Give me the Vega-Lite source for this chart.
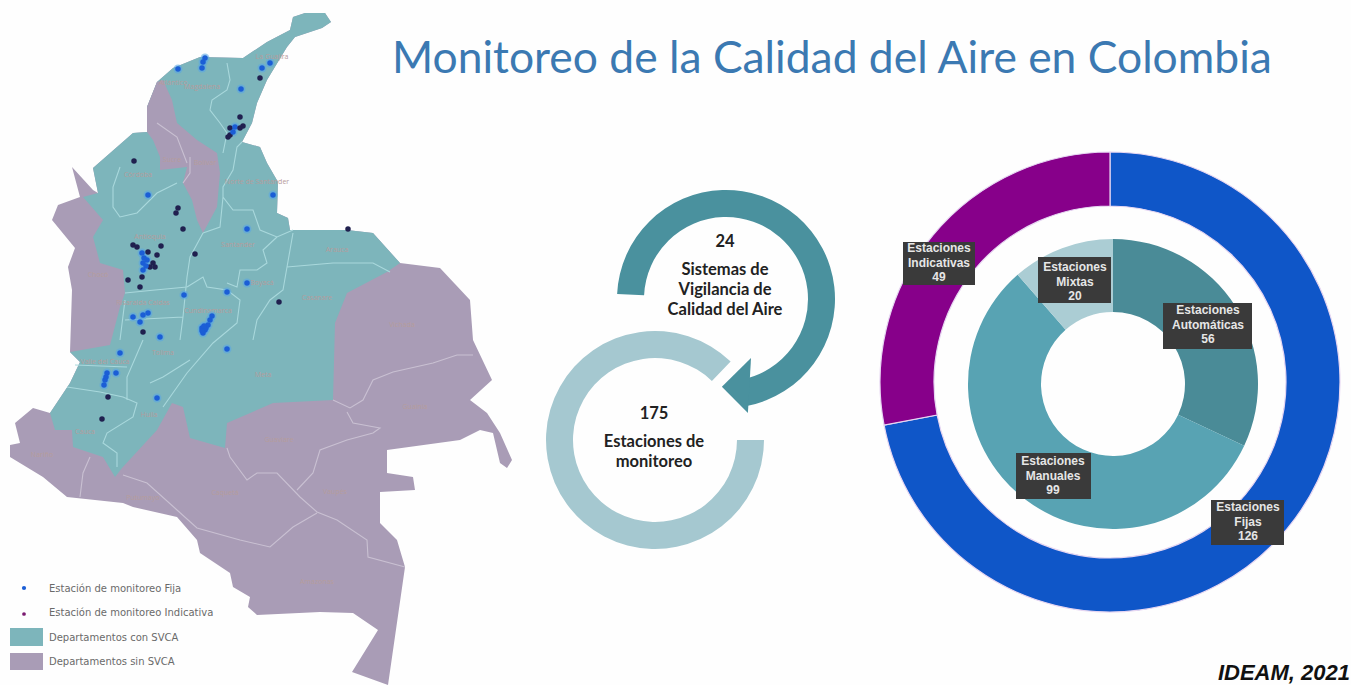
{"$schema":"https://vega.github.io/schema/vega-lite/v6.json","width":1351,"height":685,"autosize":{"type":"fit","contains":"padding"},"padding":0,"background":"#fefefe","view":{"stroke":null},"projection":{"type":"identity","scale":40,"translate":[3220,530],"reflectY":true},
"datasets":{
"departamentos":[
{"type":"Feature","properties":{"grupo":"Departamentos sin SVCA"},"geometry":{"type":"Polygon","coordinates":[[[-73.175,12.825],[-72.875,12.925],[-72.375,12.925],[-72.225,12.7],[-72.45,12.55],[-73.125,12.325],[-73.325,12.075],[-73.825,11.25],[-74.075,10.675],[-74.2,10.175],[-74.45,9.7],[-74,9.575],[-73.825,9.175],[-73.55,8.7],[-73.575,7.925],[-73.3,7.8],[-73.25,7.5],[-71.825,7.5],[-71.175,7.425],[-70.5,6.675],[-69.5,6.55],[-68.75,5.75],[-68.675,4.75],[-68.2,3.75],[-68.75,3.25],[-68.325,2.925],[-68,2.425],[-67.7,1.75],[-67.825,1.55],[-68,1.675],[-68.175,2.425],[-68.5,2.5],[-69,2.25],[-70.825,2],[-70.825,1.425],[-70.175,1.325],[-70.125,1],[-71,0.95],[-71,0.175],[-70.575,-0.25],[-70.375,-0.925],[-70.8,-3.875],[-71.7,-3.55],[-71.05,-2.5],[-71.675,-2.075],[-72.5,-2.05],[-74.075,-2.125],[-74.3,-1.925],[-74.25,-1.675],[-74.675,-1.425],[-74.75,-1.075],[-75.5,-0.575],[-75.575,-0.25],[-76.075,0.325],[-77.175,0.575],[-77.425,0.675],[-78.825,0.825],[-79.425,1.325],[-80.25,1.825],[-80.25,2.125],[-80,2.175],[-80.125,2.675],[-79.675,3.05],[-79.25,2.925],[-78.75,3.675],[-78.5,4.2],[-78.75,4.45],[-78.7,6],[-78.8,6.575],[-78.625,7.05],[-79.2,7.75],[-79.05,8.125],[-78.5,8.325],[-78.7,9.075],[-78.175,8.5],[-78.05,8.425],[-78.175,9.05],[-77.175,9.925],[-76.825,9.95],[-76.825,10.575],[-76.575,11.2],[-76.175,11.55],[-75.5,11.825],[-74.425,11.8],[-73.825,12.2],[-73.25,12.5],[-73.175,12.825]]]}},
{"type":"Feature","properties":{"grupo":"Departamentos con SVCA"},"geometry":{"type":"Polygon","coordinates":[[[-76.575,11.2],[-76.175,11.55],[-75.5,11.825],[-74.425,11.8],[-73.825,12.2],[-73.25,12.5],[-73.175,12.825],[-72.875,12.925],[-72.375,12.925],[-72.225,12.7],[-72.45,12.55],[-73.125,12.325],[-73.325,12.075],[-73.825,11.25],[-74.075,10.675],[-74.2,10.175],[-74.45,9.7],[-74,9.575],[-73.825,9.175],[-73.55,8.7],[-73.575,7.925],[-73.3,7.8],[-73.25,7.5],[-71.825,7.5],[-71.175,7.425],[-70.5,6.675],[-70.825,6.45],[-71.825,5.925],[-72.125,5.175],[-72.175,3.25],[-73.675,3.175],[-74.825,2.675],[-74.875,2.05],[-75.75,2.3],[-75.925,3.075],[-76.2,3.175],[-76.575,2.5],[-77.45,1.55],[-77.625,1.325],[-77.925,1.825],[-78.675,2.075],[-78.7,2.5],[-79.125,2.5],[-79.25,2.925],[-78.75,3.675],[-78.5,4.2],[-78.75,4.45],[-77.75,4.625],[-77.5,5.575],[-77.375,5.925],[-77.425,6.5],[-78,6.675],[-78.175,7.325],[-77.925,7.75],[-78.425,8.325],[-78.05,8.425],[-78.175,9.05],[-77.175,9.925],[-76.825,9.95],[-76.825,10.575],[-76.575,11.2]]]}},
{"type":"Feature","properties":{"grupo":"Departamentos sin SVCA"},"geometry":{"type":"Polygon","coordinates":[[[-76.575,11.2],[-76.425,11.25],[-76.2,10.75],[-76.075,10.175],[-75.575,9.75],[-75.075,9.425],[-75,8.925],[-75.075,8.075],[-75.425,7.425],[-75.575,7.75],[-75.7,8.25],[-75.925,8.675],[-75.825,9.075],[-76.5,9],[-76.5,9.325],[-76.675,9.75],[-76.825,9.95],[-76.825,10.575],[-76.575,11.2]]]}}
],
"limites_con":[{"type":"Feature","properties":{"grupo":"con"},"geometry":{"type":"MultiLineString","coordinates":[
[[-74.825,11.675],[-74.75,11.25],[-74.825,11],[-75.2,10.75],[-75.25,10.5],[-75,10.175],[-74.825,9.925],[-74.925,9.425]],
[[-74.45,9.7],[-74.575,9.575],[-74.675,9],[-74.925,8.575],[-74.925,8.325],[-74.675,8],[-74.175,8],[-74,7.5],[-73.575,7.325],[-73.175,7.5]],
[[-77.5,9.075],[-77.675,8.575],[-77.675,8.075],[-77.5,7.825],[-77.075,7.925],[-76.575,8.425],[-76.075,8.675]],
[[-75.425,7.425],[-75.75,6.825],[-75.825,6.325],[-75.925,5.325],[-76,4.75]],
[[-74.925,8.325],[-75,7.575],[-75.425,7.425]],
[[-73.575,7.325],[-73.925,7],[-73.825,6.675],[-74.075,6.5],[-74.5,6.5],[-74.575,6.075],[-74.825,6.175]],
[[-73.175,7.425],[-73.325,6.575],[-73.425,6],[-73.75,5.75],[-74.075,5.25],[-74.175,4.75]],
[[-73.325,6.575],[-72.175,6.675],[-71.175,6.675],[-70.75,6.45]],
[[-75.825,6.075],[-75.425,6.325],[-75.325,6.075],[-74.825,6],[-74.5,5.75],[-74.575,5.175],[-75.175,4.675],[-75.825,3.925],[-76.425,3.075]],
[[-76.925,4.75],[-77.325,3.825],[-77.325,3.25]],
[[-78.825,3.575],[-78,3.45],[-77.425,3.325],[-77.075,3.175],[-77.175,2.825],[-77.825,2.425],[-77.925,2.175],[-77.575,1.925],[-77.575,1.575]],
[[-78.625,4.125],[-77.325,4.075]],
[[-75.75,4.25],[-76.425,3.825],[-76.75,3.675]],
[[-77.5,4.75],[-77.375,5.75]],
[[-77.375,5.925],[-76.625,6],[-75.825,6.075]],
[[-77.375,5.25],[-75.925,5.325]]
]}}],
"limites_sin":[{"type":"Feature","properties":{"grupo":"sin"},"geometry":{"type":"MultiLineString","coordinates":[
[[-72.175,3.25],[-71.75,3.05],[-71.425,3.25],[-71.175,3.75],[-70.675,3.95],[-69.675,4.175],[-69.075,4.375],[-68.675,4.375]],
[[-71.825,2.95],[-71.675,2.675],[-71,2.55],[-71.175,2.425],[-71.825,2.25],[-72.5,2],[-72.675,1.425],[-73.075,1]],
[[-74.825,2.05],[-74.75,1.825],[-74.325,1.25],[-74.075,1.425],[-73.575,1.425],[-73,0.825],[-72.575,0.45],[-72.075,0.25],[-71.325,-0.25],[-71.3,-0.675],[-70.375,-0.925]],
[[-77.425,1.375],[-76.825,1.175],[-76.075,0.5],[-75.575,0.05],[-74.5,-0.25],[-73.75,-0.425],[-73.175,0.075],[-72.575,0.425]],
[[-78.25,1.825],[-78.425,1.425],[-78.5,0.825]],
[[-76.575,10.175],[-76.075,9.825],[-75.825,9.175]],
[[-75.75,9.325],[-75.75,8.925],[-75.925,8.675]]
]}}],
"estaciones":[
{"lon":-76.05,"lat":11.525,"tipo":"Estación Fija"},{"lon":-75.425,"lat":11.7,"tipo":"Estación Fija"},{"lon":-75.45,"lat":11.55,"tipo":"Estación Fija"},{"lon":-75.375,"lat":11.8,"tipo":"Estación Fija"},{"lon":-73.95,"lat":11.55,"tipo":"Estación Fija"},{"lon":-74,"lat":11.3,"tipo":"Estación Indicativa"},{"lon":-73.75,"lat":11.675,"tipo":"Estación Fija"},{"lon":-74.475,"lat":11.025,"tipo":"Estación Fija"},{"lon":-74.5,"lat":10.325,"tipo":"Estación Indicativa"},{"lon":-74.75,"lat":10.05,"tipo":"Estación Indicativa"},{"lon":-74.625,"lat":10.075,"tipo":"Estación Fija"},{"lon":-74.5,"lat":10.05,"tipo":"Estación Indicativa"},{"lon":-74.75,"lat":9.875,"tipo":"Estación Indicativa"},{"lon":-74.675,"lat":9.95,"tipo":"Estación Fija"},{"lon":-74.8,"lat":9.825,"tipo":"Estación Indicativa"},{"lon":-74.425,"lat":10.1,"tipo":"Estación Indicativa"},{"lon":-77.15,"lat":9.225,"tipo":"Estación Indicativa"},{"lon":-76.8,"lat":8.375,"tipo":"Estación Fija"},{"lon":-76.05,"lat":8.05,"tipo":"Estación Indicativa"},{"lon":-76.1,"lat":7.925,"tipo":"Estación Indicativa"},{"lon":-75.925,"lat":7.525,"tipo":"Estación Indicativa"},{"lon":-74.325,"lat":7.525,"tipo":"Estación Fija"},{"lon":-73.675,"lat":8.375,"tipo":"Estación Fija"},{"lon":-71.8,"lat":7.525,"tipo":"Estación Indicativa"},{"lon":-75.625,"lat":6.9,"tipo":"Estación Indicativa"},{"lon":-77.175,"lat":7.125,"tipo":"Estación Indicativa"},{"lon":-77.075,"lat":7.075,"tipo":"Estación Indicativa"},{"lon":-76.475,"lat":7.1,"tipo":"Estación Indicativa"},{"lon":-76.8,"lat":6.95,"tipo":"Estación Indicativa"},{"lon":-76.95,"lat":6.925,"tipo":"Estación Fija"},{"lon":-76.825,"lat":6.75,"tipo":"Estación Fija"},{"lon":-76.925,"lat":6.675,"tipo":"Estación Fija"},{"lon":-76.675,"lat":6.675,"tipo":"Estación Indicativa"},{"lon":-76.75,"lat":6.575,"tipo":"Estación Indicativa"},{"lon":-76.625,"lat":6.575,"tipo":"Estación Indicativa"},{"lon":-76.925,"lat":6.5,"tipo":"Estación Fija"},{"lon":-76.95,"lat":6.325,"tipo":"Estación Indicativa"},{"lon":-76.575,"lat":6.875,"tipo":"Estación Indicativa"},{"lon":-77.3,"lat":6.25,"tipo":"Estación Indicativa"},{"lon":-77,"lat":6.075,"tipo":"Estación Indicativa"},{"lon":-75.9,"lat":5.875,"tipo":"Estación Fija"},{"lon":-74.825,"lat":5.95,"tipo":"Estación Fija"},{"lon":-73.525,"lat":5.7,"tipo":"Estación Indicativa"},{"lon":-74.325,"lat":6.175,"tipo":"Estación Fija"},{"lon":-75.2,"lat":5.35,"tipo":"Estación Fija"},{"lon":-75.45,"lat":5.05,"tipo":"Estación Fija"},{"lon":-75.375,"lat":5,"tipo":"Estación Fija"},{"lon":-75.3,"lat":5.125,"tipo":"Estación Fija"},{"lon":-75.425,"lat":4.925,"tipo":"Estación Fija"},{"lon":-75.25,"lat":5.25,"tipo":"Estación Fija"},{"lon":-75.35,"lat":5.05,"tipo":"Estación Fija"},{"lon":-75.4,"lat":5.1,"tipo":"Estación Fija"},{"lon":-75.45,"lat":4.98,"tipo":"Estación Fija"},{"lon":-76.85,"lat":6.6,"tipo":"Estación Fija"},{"lon":-76.9,"lat":6.8,"tipo":"Estación Fija"},{"lon":-76.8,"lat":5.425,"tipo":"Estación Fija"},{"lon":-76.925,"lat":5.375,"tipo":"Estación Fija"},{"lon":-77,"lat":5.2,"tipo":"Estación Fija"},{"lon":-77.175,"lat":5.325,"tipo":"Estación Fija"},{"lon":-76.925,"lat":4.95,"tipo":"Estación Indicativa"},{"lon":-76.5,"lat":4.825,"tipo":"Estación Fija"},{"lon":-77.5,"lat":4.425,"tipo":"Estación Fija"},{"lon":-74.825,"lat":4.525,"tipo":"Estación Fija"},{"lon":-77.825,"lat":3.925,"tipo":"Estación Fija"},{"lon":-77.875,"lat":3.75,"tipo":"Estación Fija"},{"lon":-77.9,"lat":3.625,"tipo":"Estación Fija"},{"lon":-77.85,"lat":3.825,"tipo":"Estación Fija"},{"lon":-77.6,"lat":3.925,"tipo":"Estación Fija"},{"lon":-77.8,"lat":3.325,"tipo":"Estación Indicativa"},{"lon":-76.575,"lat":3.3,"tipo":"Estación Fija"},{"lon":-77.95,"lat":2.775,"tipo":"Estación Indicativa"}
],
"nombres":[
{"n":"La Guajira","lon":-73.7,"lat":11.825},{"n":"Magdalena","lon":-75.45,"lat":11.075},{"n":"Atlántico","lon":-76.175,"lat":11.175},{"n":"Córdoba","lon":-77.05,"lat":8.875},{"n":"Sucre","lon":-76.2,"lat":9.25},{"n":"Bolívar","lon":-75.375,"lat":9.175},{"n":"Norte de Santander","lon":-74.075,"lat":8.7},{"n":"Antioquia","lon":-76.75,"lat":7.325},{"n":"Santander","lon":-74.55,"lat":7.125},{"n":"Arauca","lon":-72.075,"lat":7},{"n":"Boyacá","lon":-73.95,"lat":6.175},{"n":"Casanare","lon":-72.575,"lat":5.8},{"n":"Chocó","lon":-78.05,"lat":6.375},{"n":"Risaralda Caldas","lon":-76.925,"lat":5.675},{"n":"Cundinamarca","lon":-75.3,"lat":5.475},{"n":"Valle del Cauca","lon":-77.875,"lat":4.2},{"n":"Tolima","lon":-76.425,"lat":4.425},{"n":"Huila","lon":-76.775,"lat":2.875},{"n":"Meta","lon":-73.925,"lat":3.875},{"n":"Guainía","lon":-70.125,"lat":3.075},{"n":"Vichada","lon":-70.45,"lat":5.125},{"n":"Guaviare","lon":-73.525,"lat":2.25},{"n":"Vaupés","lon":-72.125,"lat":0.95},{"n":"Caquetá","lon":-74.875,"lat":0.925},{"n":"Putumayo","lon":-76.925,"lat":0.8},{"n":"Amazonas","lon":-72.575,"lat":-1.3},{"n":"Nariño","lon":-79.45,"lat":1.875},{"n":"Cauca","lon":-78.375,"lat":2.45}
],
"anillos":[
{"categoria":"Estaciones Fijas","anillo":"externo","orden":1,"valor":126,"etiqueta":"Estaciones\nFijas\n126"},
{"categoria":"Estaciones Indicativas","anillo":"externo","orden":2,"valor":49,"etiqueta":"Estaciones\nIndicativas\n49"},
{"categoria":"Estaciones Automáticas","anillo":"interno","orden":1,"valor":56,"etiqueta":"Estaciones\nAutomáticas\n56"},
{"categoria":"Estaciones Manuales","anillo":"interno","orden":2,"valor":99,"etiqueta":"Estaciones\nManuales\n99"},
{"categoria":"Estaciones Mixtas","anillo":"interno","orden":3,"valor":20,"etiqueta":"Estaciones\nMixtas\n20"}
],
"leyenda":[{"t":"Estación de monitoreo Fija"},{"t":"Estación de monitoreo Indicativa"},{"t":"Departamentos con SVCA"},{"t":"Departamentos sin SVCA"}],
"bloques":[{"id":"s","num":"24","txt":"Sistemas de\nVigilancia de\nCalidad del Aire"},{"id":"e","num":"175","txt":"Estaciones de\nmonitoreo"}],
"titulos":[{"titulo":"Monitoreo de la Calidad del Aire en Colombia","fuente":"IDEAM, 2021"}]
},
"layer":[
{"data":{"name":"departamentos"},"mark":{"type":"geoshape","stroke":null},"encoding":{"color":{"field":"properties.grupo","type":"nominal","legend":null,"scale":{"domain":["Departamentos con SVCA","Departamentos sin SVCA","Estaciones Fijas","Estaciones Indicativas","Estaciones Automáticas","Estaciones Manuales","Estaciones Mixtas","Estación Fija","Estación Indicativa"],"range":["#7db5bb","#a99cb6","#0f56c8","#87008a","#4a8b97","#58a3b3","#abcdd4","#1b5ed6","#20204f"]}}}},
{"data":{"name":"limites_con"},"mark":{"type":"geoshape","filled":false,"stroke":"#a9d8dc","strokeWidth":1.1}},
{"data":{"name":"limites_sin"},"mark":{"type":"geoshape","filled":false,"stroke":"#c9c0d2","strokeWidth":1.1}},
{"data":{"name":"nombres"},"mark":{"type":"text","font":"Open Sans","fontSize":7,"color":"#b69c9c"},"encoding":{"longitude":{"field":"lon","type":"quantitative"},"latitude":{"field":"lat","type":"quantitative"},"text":{"field":"n"}}},
{"data":{"name":"estaciones"},"transform":[{"filter":"datum.tipo==='Estación Fija'"}],"mark":{"type":"circle","size":80,"color":"#5aa7e2","opacity":0.6},"encoding":{"longitude":{"field":"lon","type":"quantitative"},"latitude":{"field":"lat","type":"quantitative"}}},
{"data":{"name":"estaciones"},"mark":{"type":"circle","size":30,"opacity":1},"encoding":{"longitude":{"field":"lon","type":"quantitative"},"latitude":{"field":"lat","type":"quantitative"},"color":{"field":"tipo","type":"nominal","legend":null}}},
{"data":{"name":"leyenda"},"mark":{"type":"text","x":49,"align":"left","baseline":"middle","font":"DejaVu Sans","fontSize":10,"color":"#6a6a6a"},"encoding":{"y":{"field":"t","type":"nominal","axis":null,"sort":null,"scale":{"type":"point","padding":0,"domain":["Estación de monitoreo Fija","Estación de monitoreo Indicativa","Departamentos con SVCA","Departamentos sin SVCA"],"range":[589,662]}},"text":{"field":"t"}}},
{"data":{"name":"titulos"},"mark":{"type":"rect","x":10,"x2":43,"y":628,"y2":646,"fill":"#7db5bb"}},
{"data":{"name":"titulos"},"mark":{"type":"rect","x":10,"x2":43,"y":653,"y2":670,"fill":"#a99cb6"}},
{"data":{"name":"titulos"},"mark":{"type":"circle","x":24,"y":588,"size":18,"fill":"#1b5ed6","opacity":1}},
{"data":{"name":"titulos"},"mark":{"type":"circle","x":24,"y":614,"size":14,"fill":"#7a1a70","opacity":1}},
{"data":{"name":"titulos"},"mark":{"type":"text","x":392,"y":73,"align":"left","baseline":"alphabetic","font":"Lato","fontSize":44.4,"color":"#3b79b2"},"encoding":{"text":{"field":"titulo"}}},
{"data":{"name":"titulos"},"mark":{"type":"text","x":1350,"y":680,"align":"right","baseline":"alphabetic","font":"Liberation Sans","fontWeight":"bold","fontStyle":"italic","fontSize":22,"color":"#111111"},"encoding":{"text":{"field":"fuente"}}},
{"data":{"name":"titulos"},"mark":{"type":"arc","x":655,"y":440,"radius":109,"radius2":82,"theta":1.5708,"theta2":7.05,"fill":"#a5c8d0"}},
{"data":{"name":"titulos"},"mark":{"type":"arc","x":726,"y":299,"radius":109,"radius2":82,"theta":-1.525,"theta2":2.95,"fill":"#4a919e"}},
{"data":{"name":"titulos"},"mark":{"type":"point","x":737,"y":386,"filled":true,"opacity":1,"size":3136,"shape":"M -0.54 0.03 L 0.5 -1 L 0.39 0.96 Z","fill":"#4a919e"}},
{"data":{"name":"bloques"},"transform":[{"filter":"datum.id==='s'"}],"mark":{"type":"text","x":725,"y":242,"font":"Lato","fontWeight":"bold","fontSize":16.5,"color":"#222222"},"encoding":{"text":{"field":"num"}}},
{"data":{"name":"bloques"},"transform":[{"filter":"datum.id==='s'"}],"mark":{"type":"text","x":725,"y":262,"baseline":"top","lineBreak":"\n","lineHeight":20,"font":"Lato","fontWeight":"bold","fontSize":16.5,"color":"#222222"},"encoding":{"text":{"field":"txt"}}},
{"data":{"name":"bloques"},"transform":[{"filter":"datum.id==='e'"}],"mark":{"type":"text","x":654,"y":414,"font":"Lato","fontWeight":"bold","fontSize":16.5,"color":"#222222"},"encoding":{"text":{"field":"num"}}},
{"data":{"name":"bloques"},"transform":[{"filter":"datum.id==='e'"}],"mark":{"type":"text","x":654,"y":434,"baseline":"top","lineBreak":"\n","lineHeight":20,"font":"Lato","fontWeight":"bold","fontSize":16.5,"color":"#222222"},"encoding":{"text":{"field":"txt"}}},
{"data":{"name":"anillos"},"transform":[{"filter":"datum.anillo==='externo'"}],"mark":{"type":"arc","x":1110,"y":382,"radius":230,"radius2":176,"stroke":"#e6d6f2","strokeWidth":1.2},"encoding":{"theta":{"field":"valor","type":"quantitative","stack":true},"order":{"field":"orden"},"color":{"field":"categoria","type":"nominal","legend":null}}},
{"data":{"name":"anillos"},"transform":[{"filter":"datum.anillo==='interno'"}],"mark":{"type":"arc","x":1113,"y":384,"radius":145,"radius2":72},"encoding":{"theta":{"field":"valor","type":"quantitative","stack":true},"order":{"field":"orden"},"color":{"field":"categoria","type":"nominal","legend":null}}},
{"data":{"name":"titulos"},"mark":{"type":"rect","x":903,"x2":975,"y":242,"y2":285,"fill":"#3a3a3a"}},
{"data":{"name":"titulos"},"mark":{"type":"rect","x":1038,"x2":1111,"y":257,"y2":303,"fill":"#3a3a3a"}},
{"data":{"name":"titulos"},"mark":{"type":"rect","x":1163,"x2":1252,"y":303,"y2":349,"fill":"#3a3a3a"}},
{"data":{"name":"titulos"},"mark":{"type":"rect","x":1016,"x2":1091,"y":453,"y2":499,"fill":"#3a3a3a"}},
{"data":{"name":"titulos"},"mark":{"type":"rect","x":1211,"x2":1284,"y":500,"y2":545,"fill":"#3a3a3a"}},
{"data":{"name":"anillos"},"transform":[{"filter":"datum.orden===2 && datum.anillo==='externo'"}],"mark":{"type":"text","x":939,"y":243,"baseline":"top","lineBreak":"\n","lineHeight":14.5,"font":"Liberation Sans","fontWeight":"bold","fontSize":12,"color":"#e6e6e6"},"encoding":{"text":{"field":"etiqueta"}}},
{"data":{"name":"anillos"},"transform":[{"filter":"datum.orden===3"}],"mark":{"type":"text","x":1075,"y":262,"baseline":"top","lineBreak":"\n","lineHeight":14.5,"font":"Liberation Sans","fontWeight":"bold","fontSize":12,"color":"#e6e6e6"},"encoding":{"text":{"field":"etiqueta"}}},
{"data":{"name":"anillos"},"transform":[{"filter":"datum.orden===1 && datum.anillo==='interno'"}],"mark":{"type":"text","x":1208,"y":305,"baseline":"top","lineBreak":"\n","lineHeight":14.5,"font":"Liberation Sans","fontWeight":"bold","fontSize":12,"color":"#e6e6e6"},"encoding":{"text":{"field":"etiqueta"}}},
{"data":{"name":"anillos"},"transform":[{"filter":"datum.orden===2 && datum.anillo==='interno'"}],"mark":{"type":"text","x":1053,"y":456,"baseline":"top","lineBreak":"\n","lineHeight":14.5,"font":"Liberation Sans","fontWeight":"bold","fontSize":12,"color":"#e6e6e6"},"encoding":{"text":{"field":"etiqueta"}}},
{"data":{"name":"anillos"},"transform":[{"filter":"datum.orden===1 && datum.anillo==='externo'"}],"mark":{"type":"text","x":1248,"y":502,"baseline":"top","lineBreak":"\n","lineHeight":14.5,"font":"Liberation Sans","fontWeight":"bold","fontSize":12,"color":"#e6e6e6"},"encoding":{"text":{"field":"etiqueta"}}}
]}
